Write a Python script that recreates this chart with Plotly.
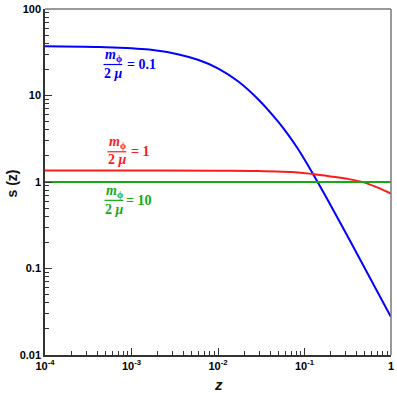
import plotly.graph_objects as go

# curvas
z_azul = [1e-4, 4.27e-4, 1.6e-3, 3.52e-3, 5.97e-3, 1.01e-2, 1.72e-2, 2.91e-2,
          4.93e-2, 6.43e-2, 8.38e-2, 0.1245, 0.185, 0.427, 1.0]
s_azul = [37.2, 36.4, 34.0, 29.8, 25.7, 20.5, 14.5, 9.04,
          5.01, 3.55, 2.42, 1.256, 0.624, 0.134, 0.0275]

z_rojo = [1e-4, 1e-3, 1e-2, 2.91e-2, 8.38e-2, 0.1245, 0.2, 0.313, 0.486, 0.692, 1.0]
s_rojo = [1.355, 1.355, 1.35, 1.34, 1.29, 1.235, 1.16, 1.088, 0.99, 0.865, 0.733]

z_verde = [1e-4, 1.0]
s_verde = [1.0, 1.0]

etiquetas = ["0.1", "1", "10"]

x_ticks = [1e-4, 1e-3, 1e-2, 1e-1, 1]
x_text = ["10<sup>-4</sup>", "10<sup>-3</sup>", "10<sup>-2</sup>", "10<sup>-1</sup>", "1"]
y_ticks = [0.01, 0.1, 1, 10, 100]
y_text = ["0.01", "0.1", "1", "10", "100"]

AZUL = "#0000ff"
ROJO = "#ff1a1a"
VERDE = "#14aa14"

fig = go.Figure()
for z, s, c in [(z_azul, s_azul, AZUL), (z_rojo, s_rojo, ROJO), (z_verde, s_verde, VERDE)]:
    fig.add_trace(go.Scatter(x=z, y=s, mode="lines", line=dict(color=c, width=2, shape="spline", smoothing=1),
                             showlegend=False, hoverinfo="skip"))

minor_x = [k * 10 ** e for e in range(-4, 0) for k in range(2, 10)]
minor_y = [k * 10 ** e for e in range(-2, 2) for k in range(2, 10)]

eje = dict(type="log", showgrid=False, zeroline=False, showline=True, linecolor="#333",
           linewidth=1.5, ticks="inside", ticklen=7, tickwidth=1.2, tickcolor="#333",
           ticklabeloverflow="allow",
           tickfont=dict(family="Liberation Sans", size=11, color="#000", weight="bold"))

fig.update_layout(
    width=397, height=393,
    margin=dict(l=45, r=3, t=6, b=38),
    plot_bgcolor="white", paper_bgcolor="white",
    xaxis=dict(eje, range=[-4, 0], tickmode="array", tickvals=x_ticks, ticktext=x_text,
               minor=dict(tickmode="array", tickvals=minor_x, ticks="inside", ticklen=4, tickcolor="#333")),
    yaxis=dict(eje, range=[-2, 2], tickmode="array", tickvals=y_ticks, ticktext=y_text,
               minor=dict(tickmode="array", tickvals=minor_y, ticks="inside", ticklen=4, tickcolor="#333")),
)

# borde superior y derecho en gris
fig.add_shape(type="line", xref="paper", yref="paper", x0=0, x1=1, y0=1, y1=1, line=dict(color="#777", width=1.5))
fig.add_shape(type="line", xref="paper", yref="paper", x0=1, x1=1, y0=0, y1=1, line=dict(color="#777", width=1.5))

# titulos de ejes
fig.add_annotation(text="<b><i>z</i></b>", xref="paper", yref="paper", x=0.5, y=-0.086,
                   xanchor="center", yanchor="middle",
                   showarrow=False, font=dict(family="Liberation Sans", size=15, color="#111"))
fig.add_annotation(text="<b>s (z)</b>", xref="paper", yref="paper", x=-0.095, y=0.496, textangle=-90,
                   xanchor="center", yanchor="middle",
                   showarrow=False, font=dict(family="Liberation Sans", size=14, color="#111"))

# etiquetas de fraccion m_phi / (2 mu)
def px_x(p):
    return (p - 45) / 349

def px_y(p):
    return (355 - p) / 349

posiciones = [(114, 53, 62, 71, 126, AZUL), (118, 141, 150, 158, 130, ROJO), (115, 190, 199, 208, 125, VERDE)]
for txt, (cx, ynum, ybar, yden, xeq, col) in zip(etiquetas, posiciones):
    f = dict(family="Liberation Serif", size=14, color=col)
    fig.add_annotation(text="<b><i>m</i><sub>ϕ</sub></b>", xref="paper", yref="paper", x=px_x(cx), y=px_y(ynum),
                       xanchor="center", yanchor="middle", showarrow=False, font=f)
    fig.add_annotation(text="<b>2 <i>μ</i></b>", xref="paper", yref="paper", x=px_x(cx), y=px_y(yden),
                       xanchor="center", yanchor="middle", showarrow=False, font=f)
    fig.add_shape(type="line", xref="paper", yref="paper", x0=px_x(cx - 10), x1=px_x(cx + 9),
                  y0=px_y(ybar), y1=px_y(ybar), line=dict(color=col, width=1.2))
    fig.add_annotation(text="<b>= " + txt + "</b>", xref="paper", yref="paper", x=px_x(xeq), y=px_y(ybar),
                       xanchor="left", yanchor="middle", showarrow=False,
                       font=dict(family="Liberation Serif", size=14, color=col))

fig.write_html("out.html", config={"displayModeBar": False},
               post_script="document.body.style.margin='0';")
